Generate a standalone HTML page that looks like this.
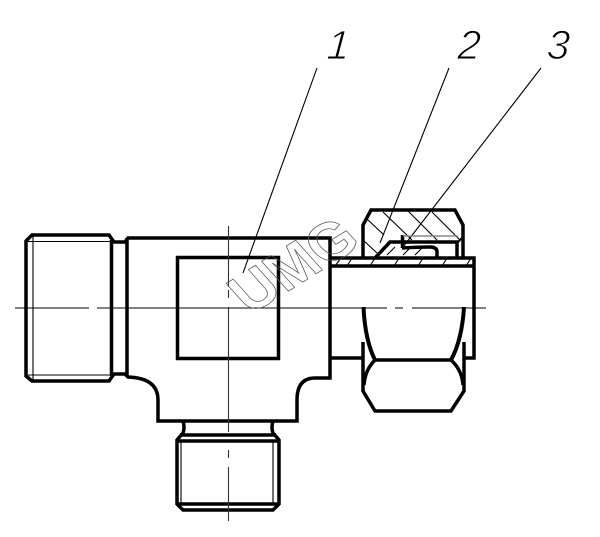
<!DOCTYPE html>
<html><head><meta charset="utf-8"><style>
html,body{margin:0;padding:0;background:#fff}
svg{display:block}
text{font-family:"Liberation Sans",sans-serif}
</style></head><body>
<svg width="600" height="537" viewBox="0 0 600 537" xmlns="http://www.w3.org/2000/svg">
<g fill="none" stroke="#000" stroke-width="3.500" stroke-linejoin="miter">
<!-- left thread -->
<path d="M32 235H109L114 242H125L128 238H330V378H315Q297 378 297 400V421H158V400Q158 378 128 377L125 374H114L109 381H32L26 376V241Z"/>
<path d="M111.500 240V376M127 238V377"/>
<!-- window -->
<rect x="177.500" y="257.500" width="101" height="101"/>
<!-- bottom thread -->
<path d="M183 421Q185 428 183 433L177 440V504L183 510H273L279 504V440L273 433Q271 428 273 421"/>
<path d="M180 435H276M178 441H278M178 504H278"/>
<!-- tube -->
<path d="M330 258H474V358H465M330 266H474M330 358H362"/>
<!-- nut top -->
<path d="M363 258V225L371 210H455L463 225V258"/>
<path d="M375 258L390 242H458M402.500 235V248M457 242V258M402 248Q420 247 430 247Q437 247 437 252V257"/>
<path d="M458 242L463 237" stroke-width="2"/>
<!-- nut bottom -->
<path d="M363.500 307Q365 340 375 360M464 307Q462 340 451 360" stroke-width="4"/>
<path d="M375 360H451M375 360Q365 370 364 385M451 360Q462 370 463 385"/>
<path d="M363 342V391L375 411H451L464 391V342"/>
</g>
<g fill="none" stroke="#000" stroke-width="1.100">
<path d="M33 236V380M28 241.500H110M28 375H110" />
<path d="M181 441V504M273 441V504"/>
<!-- centre lines -->
<path d="M15 308H89M97 308H387M395 308H403M412 308H486"/>
<path d="M228.500 226V287M228.500 290V298M228.500 307V432M228.500 450V458M228.500 467V521" stroke="#333"/>
<!-- leaders -->
<path d="M317 68L243 273M449 68L380 243M541 68L403 247"/>
<!-- hatch -->
<path d="M367 219L384 235M363 240L377 253M383 212L412 240M408 211L437 240M432 212L460 240"/>
<path d="M335 266L341 258M347 266L352 258M370 266L375 258M394 266L399 258M418 266L423 258M442 266L447 258M466 266L471 258"/>
<path d="M387 255L395 247M403 255L411 247M415 255L423 247"/>
<path d="M403 236H458" stroke="#888" stroke-width="1.500"/>
</g>
<!-- watermark -->
<text transform="matrix(0.90 -0.56 0.72 0.80 250 315)" x="0" y="0" font-size="54" font-weight="700" fill="none" stroke="#555" stroke-width="0.700">UMG</text>
<!-- labels -->
<g font-size="41" fill="#000" stroke="#fff" stroke-width="1.100" font-style="italic">
<text transform="translate(326 59) skewX(-4)">1</text>
<text transform="translate(457 59) skewX(-4)">2</text>
<text transform="translate(546 59) skewX(-4)">3</text>
</g>
</svg>
</body></html>
